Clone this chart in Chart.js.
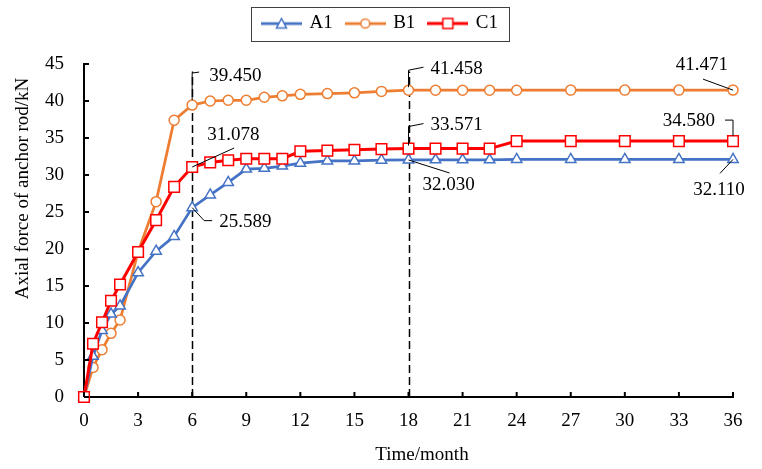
<!DOCTYPE html>
<html>
<head>
<meta charset="utf-8">
<script src="https://cdn.jsdelivr.net/npm/chart.js@4/dist/chart.umd.min.js"></script>
<style>html,body{margin:0;padding:0;background:#fff}canvas{display:block}</style>
</head>
<body>
<canvas id="c" width="762" height="469"></canvas>
<script>
// ---- data ----
const months = [0, 0.5, 1, 1.5, 2, 3, 4, 5, 6, 7, 8, 9, 10, 11, 12, 13.5, 15, 16.5, 18, 19.5, 21, 22.5, 24, 27, 30, 33, 36];
const seriesNames = ['A1', 'B1', 'C1'];
const a1Values = [0, 5.5, 9.0, 11.2, 12.3, 16.8, 19.7, 21.7, 25.589, 27.3, 29.0, 30.8, 30.9, 31.2, 31.6, 31.9, 31.9, 32.0, 32.030, 32.05, 32.05, 32.05, 32.1, 32.1, 32.1, 32.1, 32.110];
const b1Values = [0, 4.0, 6.4, 8.6, 10.4, 19.6, 26.4, 37.4, 39.450, 40.0, 40.1, 40.1, 40.5, 40.7, 40.9, 41.0, 41.1, 41.3, 41.458, 41.46, 41.46, 41.46, 41.46, 41.47, 41.47, 41.47, 41.471];
const c1Values = [0, 7.2, 10.1, 13.0, 15.2, 19.6, 23.9, 28.4, 31.078, 31.7, 32.0, 32.2, 32.2, 32.2, 33.2, 33.3, 33.4, 33.5, 33.571, 33.57, 33.57, 33.57, 34.58, 34.58, 34.58, 34.58, 34.580];
const xTickValues = [0, 3, 6, 9, 12, 15, 18, 21, 24, 27, 30, 33, 36];
const yTickValues = [0, 5, 10, 15, 20, 25, 30, 35, 40, 45];
const markedMonths = [6, 18];
const markedLineTop = 44;
const labelledMonths = [6, 18, 36];
const xTitle = 'Time/month';
const yTitle = 'Axial force of anchor rod/kN';

// ---- styles ----
const FONT = "'Liberation Serif', 'Times New Roman', serif";
const COLORS = ['#4472C4', '#ED7D31', '#FF0000'];
const STYLES = ['triangle', 'circle', 'rect'];
const RADII = [6, 5, 7.5];
const LINEW = [2.75, 2.75, 3];

function makeIcon(i) {
  const cv = document.createElement('canvas');
  cv.width = 41; cv.height = 16;
  const g = cv.getContext('2d');
  g.strokeStyle = COLORS[i]; g.lineWidth = LINEW[i];
  g.beginPath(); g.moveTo(0, 8); g.lineTo(41, 8); g.stroke();
  g.fillStyle = '#fff'; g.lineWidth = 1.5;
  g.beginPath();
  if (i === 0) { g.moveTo(20.5, 3); g.lineTo(25.5, 12.5); g.lineTo(15.5, 12.5); g.closePath(); }
  else if (i === 1) { g.arc(20.5, 8, 4.5, 0, Math.PI * 2); }
  else { g.rect(15.5, 3, 10, 10); }
  g.fill(); g.stroke();
  return cv;
}
const icons = [0, 1, 2].map(makeIcon);

const valueSets = [a1Values, b1Values, c1Values];
const datasets = seriesNames.map((name, i) => ({
  label: name,
  data: months.map((m, j) => ({x: m, y: valueSets[i][j]})),
  borderColor: COLORS[i],
  backgroundColor: '#fff',
  borderWidth: LINEW[i],
  pointStyle: STYLES[i],
  pointRadius: RADII[i],
  pointBorderWidth: 1.5,
  pointBorderColor: COLORS[i],
  pointBackgroundColor: '#fff',
  showLine: true,
  tension: 0,
  clip: false,
  order: [1, 2, 0][i]
}));

const noteLayout = {
  'B1@6':  {path: [[0, -5], [0, -32], [7, -33]], tx: 17, ty: -29, align: 'left'},
  'C1@6':  {path: [[0, 0], [42, -19]], tx: 15, ty: -32, align: 'left'},
  'A1@6':  {path: [[0, 0], [12, 13], [20, 13]], tx: 27, ty: 14, align: 'left'},
  'B1@18': {path: [[0, -3], [0, -20], [15, -23]], tx: 22, ty: -21, align: 'left'},
  'C1@18': {path: [[0, -3], [0, -22], [15, -25]], tx: 22, ty: -24, align: 'left'},
  'A1@18': {path: [[0, 0], [41, 13]], tx: 14, ty: 25, align: 'left'},
  'B1@36': {path: [[0, 0], [-30, -11]], tx: -5, ty: -25, align: 'right'},
  'C1@36': {path: [[0, -5], [0, -21], [-8, -21]], tx: -18, ty: -20, align: 'right'},
  'A1@36': {path: [[0, 0], [-13, 14]], tx: -14, ty: 31, align: 'center'}
};

const decor = {
  id: 'decor',
  beforeLayout(chart) {
    const lg = chart.legend;
    if (lg && !lg._patched) {
      const orig = lg.fit.bind(lg);
      lg.fit = function () { orig(); this.height = 64; };
      lg._patched = true;
    }
  },
  afterLayout(chart) {
    const lg = chart.legend;
    if (lg) { lg.left += 14; lg.right += 14; }
  },
  beforeDraw(chart) {
    const ctx = chart.ctx;
    ctx.save(); ctx.fillStyle = '#fff'; ctx.fillRect(0, 0, chart.width, chart.height); ctx.restore();
  },
  beforeDatasetsDraw(chart) {
    const ctx = chart.ctx, xs = chart.scales.x, ys = chart.scales.y;
    ctx.save();
    ctx.strokeStyle = '#000'; ctx.lineWidth = 1.5; ctx.setLineDash([8, 4]);
    markedMonths.forEach(m => {
      const px = Math.round(xs.getPixelForValue(m)) + 0.5;
      ctx.beginPath(); ctx.moveTo(px, ys.getPixelForValue(0)); ctx.lineTo(px, ys.getPixelForValue(markedLineTop)); ctx.stroke();
    });
    ctx.restore();
  },
  afterDraw(chart) {
    const ctx = chart.ctx, xs = chart.scales.x, ys = chart.scales.y, ca = chart.chartArea;
    ctx.save();
    // inward tick marks
    ctx.strokeStyle = '#000'; ctx.lineWidth = 2; ctx.setLineDash([]);
    xTickValues.forEach(v => {
      const px = xs.getPixelForValue(v);
      ctx.beginPath(); ctx.moveTo(px, ca.bottom); ctx.lineTo(px, ca.bottom - 5); ctx.stroke();
    });
    yTickValues.forEach(v => {
      const py = ys.getPixelForValue(v);
      ctx.beginPath(); ctx.moveTo(ca.left, py); ctx.lineTo(ca.left + 5, py); ctx.stroke();
    });
    // annotations
    ctx.font = '19px ' + FONT; ctx.fillStyle = '#000'; ctx.textBaseline = 'middle';
    ctx.lineWidth = 1;
    seriesNames.forEach((name, i) => {
      labelledMonths.forEach(m => {
        const j = months.indexOf(m);
        const v = valueSets[i][j];
        const L = noteLayout[name + '@' + m];
        if (!L) return;
        const px = xs.getPixelForValue(m), py = ys.getPixelForValue(v);
        ctx.beginPath();
        L.path.forEach((p, k) => { if (k === 0) ctx.moveTo(px + p[0], py + p[1]); else ctx.lineTo(px + p[0], py + p[1]); });
        ctx.stroke();
        ctx.textAlign = L.align;
        ctx.fillText(v.toFixed(3), px + L.tx, py + L.ty);
      });
    });
    // axis titles
    ctx.textAlign = 'center';
    ctx.fillText(xTitle, 422, 455);
    ctx.translate(23.5, 188.5); ctx.rotate(-Math.PI / 2);
    ctx.fillText(yTitle, 0, 0);
    ctx.restore();
    // legend border
    const lg = chart.legend;
    if (lg && lg.legendHitBoxes && lg.legendHitBoxes.length) {
      const hb = lg.legendHitBoxes;
      const l = hb[0].left - 12, r = hb[hb.length - 1].left + hb[hb.length - 1].width + 11;
      const cy = hb[0].top + hb[0].height / 2;
      ctx.save(); ctx.strokeStyle = '#404040'; ctx.lineWidth = 1;
      ctx.strokeRect(Math.round(l) + 0.5, Math.round(cy - 17) + 0.5, Math.round(r - l), 34);
      ctx.restore();
    }
  }
};

Chart.defaults.font.family = FONT;
Chart.defaults.color = '#000';

new Chart(document.getElementById('c'), {
  type: 'scatter',
  data: {datasets},
  options: {
    responsive: false,
    animation: false,
    layout: {padding: {left: 0, right: 29, top: 0, bottom: 0}},
    plugins: {
      tooltip: {enabled: false},
      legend: {
        position: 'top',
        labels: {
          usePointStyle: true,
          pointStyleWidth: 37,
          padding: 14,
          color: '#000',
          font: {size: 19, family: FONT},
          generateLabels(chart) {
            const items = Chart.defaults.plugins.legend.labels.generateLabels(chart);
            items.sort((a, b) => a.datasetIndex - b.datasetIndex);
            items.forEach(it => { it.pointStyle = icons[it.datasetIndex]; });
            return items;
          }
        }
      }
    },
    scales: {
      x: {
        type: 'linear', min: 0, max: 36,
        afterBuildTicks: s => { s.ticks = xTickValues.map(v => ({value: v})); },
        afterFit: s => { s.height = 72; },
        grid: {display: false, drawTicks: false},
        border: {display: true, color: '#000', width: 2},
        ticks: {padding: 13, maxRotation: 0, autoSkip: false, color: '#000', font: {size: 19, family: FONT}}
      },
      y: {
        type: 'linear', min: 0, max: 45,
        afterBuildTicks: s => { s.ticks = yTickValues.map(v => ({value: v})); },
        afterFit: s => { s.width = 84; },
        grid: {display: false, drawTicks: false},
        border: {display: true, color: '#000', width: 2},
        ticks: {padding: 20, color: '#000', font: {size: 19, family: FONT}}
      }
    }
  },
  plugins: [decor]
});
</script>
</body>
</html>
